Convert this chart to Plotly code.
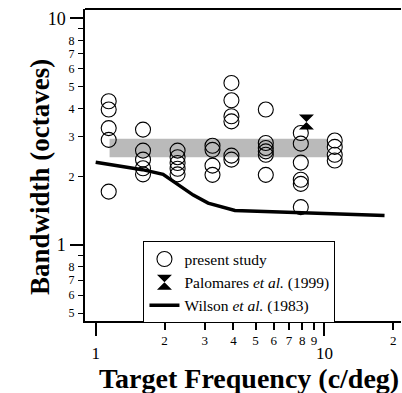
import plotly.graph_objects as go
import math

# ---- data ----
freqs = [1.14, 1.61, 2.28, 3.24, 3.92, 5.54, 7.88, 11.09]
bandwidths = [
    [4.31, 3.96, 3.28, 2.91, 1.72],
    [3.23, 2.61, 2.38, 2.18, 2.05],
    [2.61, 2.44, 2.30, 2.17, 2.05],
    [2.74, 2.63, 2.24, 2.04],
    [5.19, 4.35, 3.70, 3.51, 2.48, 2.38],
    [3.96, 2.82, 2.68, 2.59, 2.50, 2.04],
    [3.12, 2.80, 2.31, 1.94, 1.86, 1.47],
    [2.89, 2.71, 2.50, 2.36],
]
palomares_x = [8.34]
palomares_y = [3.49]
wilson_x = [1.0, 1.6, 1.97, 2.26, 2.67, 3.10, 4.06, 18.3]
wilson_y = [2.32, 2.15, 2.05, 1.87, 1.66, 1.53, 1.42, 1.35]
band_x = [1.15, 10.3]
band_lo = 2.44
band_hi = 2.94

y_major = [1, 10]
y_major_text = ["1", "10"]
y_minor = [0.5, 0.6, 0.7, 0.8, 2, 3, 4, 5, 6, 7, 8]
y_minor_text = ["5", "6", "7", "8", "2", "3", "4", "5", "6", "7", "8"]
y_unlabeled = [0.9, 9]
x_major = [1, 10]
x_major_text = ["1", "10"]
x_minor = [2, 3, 4, 5, 6, 7, 8, 9, 20]
x_minor_text = ["2", "3", "4", "5", "6", "7", "8", "9", "2"]

FONT = "Liberation Serif"
xr = [math.log10(0.898), math.log10(21.6)]
yr = [math.log10(0.462), math.log10(11.0)]

px, py = [], []
for f, vals in zip(freqs, bandwidths):
    for v in vals:
        px.append(f)
        py.append(v)

fig = go.Figure()
fig.add_trace(go.Scatter(
    x=[band_x[0], band_x[1], band_x[1], band_x[0], band_x[0]],
    y=[band_lo, band_lo, band_hi, band_hi, band_lo],
    fill="toself", fillcolor="#bababa", line=dict(width=0),
    mode="lines", showlegend=False, hoverinfo="skip"))
fig.add_trace(go.Scatter(
    x=px, y=py, mode="markers", name="present study",
    marker=dict(symbol="circle-open", size=15, color="black",
                line=dict(width=1.1, color="black"))))
fig.add_trace(go.Scatter(
    x=palomares_x, y=palomares_y, mode="markers",
    name="Palomares <i>et al.</i> (1999)",
    marker=dict(symbol="hourglass", size=15, color="black")))
fig.add_trace(go.Scatter(
    x=wilson_x, y=wilson_y, mode="lines",
    name="Wilson <i>et al.</i> (1983)",
    line=dict(color="black", width=3.5)))
fig.add_trace(go.Scatter(x=[], y=[], xaxis="x2", yaxis="y2", showlegend=False))

fig.update_layout(
    width=402, height=393,
    margin=dict(l=85, r=1, t=9, b=72),
    paper_bgcolor="white", plot_bgcolor="white",
    font=dict(family=FONT, color="black"),
    showlegend=True,
    legend=dict(x=0.185, y=0.255, xanchor="left", yanchor="top",
                bgcolor="white", bordercolor="black", borderwidth=1,
                font=dict(family=FONT, size=15.5, color="black"),
                tracegroupgap=0, itemwidth=30),
    xaxis=dict(type="log", range=xr, showgrid=False, zeroline=False,
               showline=True, linecolor="black", linewidth=1.5, mirror=False,
               tickmode="array", tickvals=x_major, ticktext=x_major_text,
               ticks="outside", ticklen=13, tickwidth=1.5, tickcolor="black",
               tickfont=dict(family=FONT, size=17), ticklabelstandoff=3),
    xaxis2=dict(type="log", range=xr, overlaying="x", anchor="y", side="bottom",
                showgrid=False, zeroline=False, showline=False,
                tickmode="array", tickvals=x_minor, ticktext=x_minor_text,
                ticks="outside", ticklen=8, tickwidth=1.5, tickcolor="black",
                tickfont=dict(family=FONT, size=13), ticklabelstandoff=-1),
    yaxis=dict(type="log", range=yr, showgrid=False, zeroline=False,
               showline=True, linecolor="black", linewidth=1.5,
               tickmode="array", tickvals=y_major, ticktext=y_major_text,
               ticks="outside", ticklen=13, tickwidth=1.5, tickcolor="black",
               tickfont=dict(family=FONT, size=18), ticklabelstandoff=1),
    yaxis2=dict(type="log", range=yr, overlaying="y", anchor="x", side="left",
                showgrid=False, zeroline=False, showline=False,
                tickmode="array", tickvals=y_minor, ticktext=y_minor_text,
                ticks="outside", ticklen=6, tickwidth=1.2, tickcolor="black",
                tickfont=dict(family=FONT, size=12), ticklabelstandoff=1,
                minor=dict(tickmode="array", tickvals=y_unlabeled, ticks="outside",
                           ticklen=6, tickwidth=1.2, tickcolor="black", showgrid=False)),
    shapes=[dict(type="line", xref="paper", yref="paper", x0=0, x1=1, y0=1, y1=1,
                 line=dict(color="black", width=2))],
    annotations=[
        dict(text="<b>Bandwidth (octaves)</b>", xref="paper", yref="paper",
             x=-0.142, y=0.462, textangle=-90, showarrow=False,
             font=dict(family=FONT, size=27), xanchor="center", yanchor="middle"),
        dict(text="<b>Target Frequency (c/deg)</b>", xref="paper", yref="paper",
             x=0.52, y=-0.184, showarrow=False,
             font=dict(family=FONT, size=28), xanchor="center", yanchor="middle"),
    ],
)

fig.write_html("out.html")
